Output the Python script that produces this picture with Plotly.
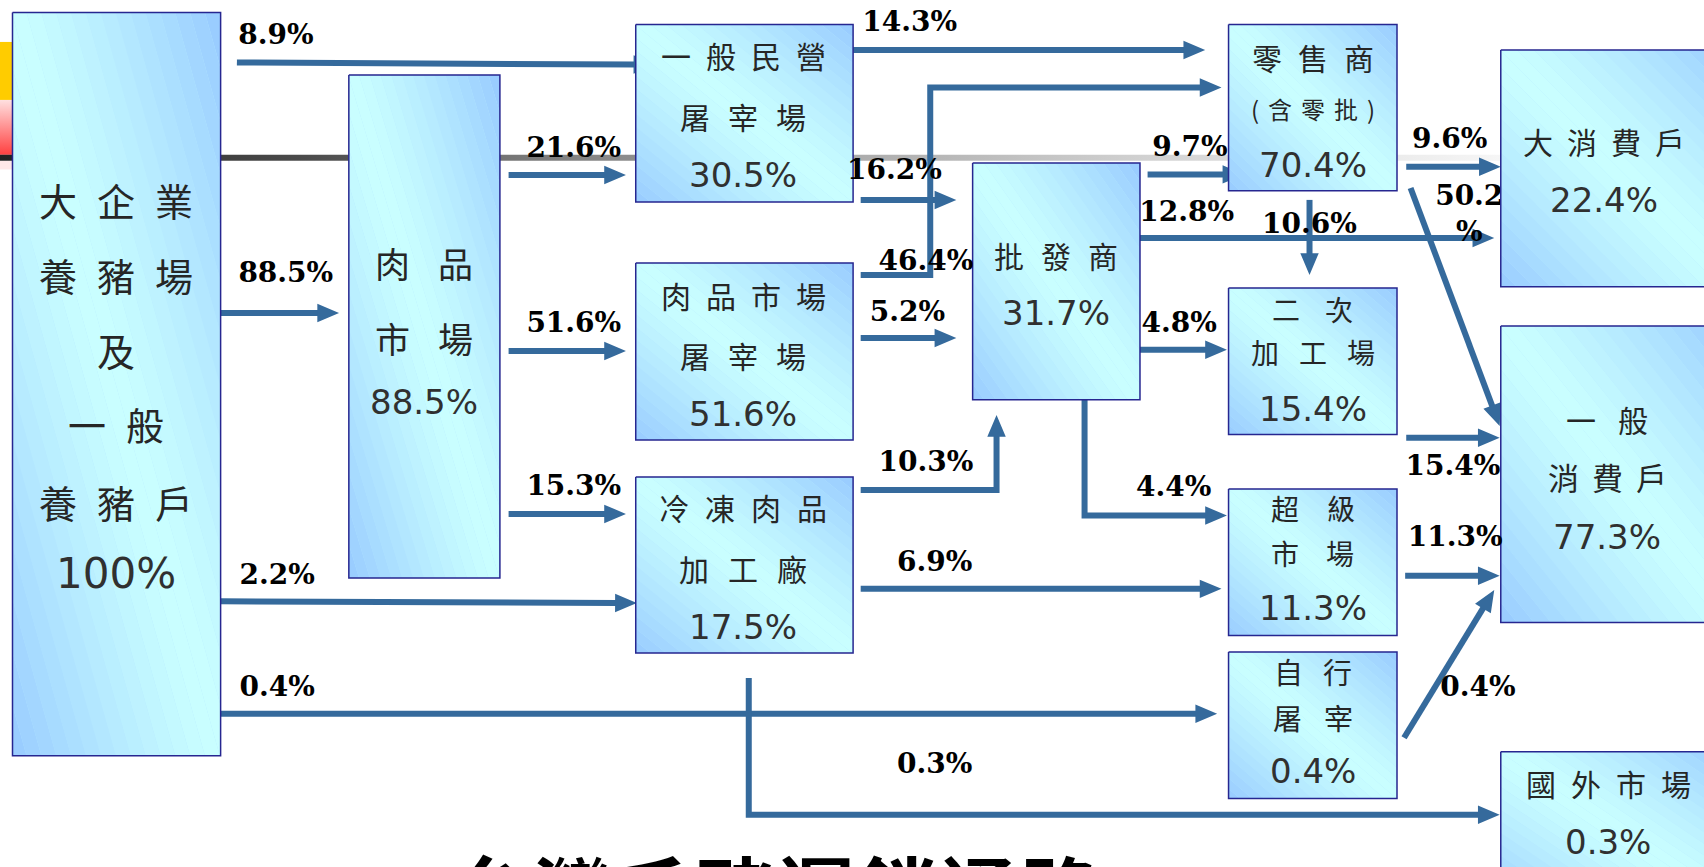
import math
import plotly.graph_objects as go

# ---------------- data ----------------
node_names = [
    ["大企業", "養豬場", "及", "一般", "養豬戶"],
    ["肉品", "市場"],
    ["一般民營", "屠宰場"],
    ["肉品市場", "屠宰場"],
    ["冷凍肉品", "加工廠"],
    ["批發商"],
    ["零售商", "(含零批)"],
    ["二次", "加工場"],
    ["超級", "市場"],
    ["自行", "屠宰"],
    ["大消費戶"],
    ["一般", "消費戶"],
    ["國外市場"],
]
node_shares = ["100%", "88.5%", "30.5%", "51.6%", "17.5%", "31.7%", "70.4%",
               "15.4%", "11.3%", "0.4%", "22.4%", "77.3%", "0.3%"]

flow_source = [0, 0, 0, 0, 1, 1, 1, 2, 2, 3, 3, 4, 4, 4, 5, 5, 5, 5, 6, 6, 6, 7, 8, 9]
flow_target = [2, 1, 4, 9, 2, 3, 4, 6, 5, 6, 5, 5, 8, 12, 6, 10, 7, 8, 7, 10, 11, 11, 11, 11]
flow_shares = ["8.9%", "88.5%", "2.2%", "0.4%", "21.6%", "51.6%", "15.3%", "14.3%",
               "16.2%", "46.4%", "5.2%", "10.3%", "6.9%", "0.3%", "9.7%", "12.8%",
               "4.8%", "4.4%", "10.6%", "9.6%", "50.2%", "15.4%", "11.3%", "0.4%"]

title_text = "台灣毛豬運銷通路"

# ---------------- layout geometry (diagram units = 1568 x 798 canvas) ----------------
W_UNITS, H_UNITS = 1568, 798
box_rects = [
    (11.5, 11.5, 203, 695.5),
    (321, 69, 460, 532),
    (585, 22.5, 785, 186),
    (585, 242, 785, 405),
    (585, 439, 785, 601),
    (895, 150, 1049, 368),
    (1130.5, 22.5, 1285.5, 175.5),
    (1130.5, 265, 1285.5, 400),
    (1130.5, 450, 1285.5, 585),
    (1130.5, 600, 1285.5, 735),
    (1381, 46, 1600, 264),
    (1381, 300, 1600, 573),
    (1381, 692, 1600, 840),
]
text_x = [107, 390, 684, 684, 684, 972, 1208, 1208, 1208, 1208, 1476, 1479, 1480]
text_y = [
    [184, 253, 322, 390, 462, 528],
    [242, 311, 370],
    [51, 107, 161],
    [271.5, 327, 381],
    [467, 523, 577],
    [235, 288],
    [52, 100, 152],
    [284, 324, 376],
    [468, 509, 560],
    [618, 660, 710],
    [130, 184],
    [386, 439, 494],
    [721, 775],
]
line_style = [  # (font px, letter spacing px) for each name line
    [(38, 20)] * 5,
    [(35, 28), (35, 28)],
    [(30, 15), (30, 18)],
    [(30, 15), (30, 18)],
    [(30, 16), (30, 19)],
    [(30, 17)],
    [(30, 16), (24, 9)],
    [(28, 25), (28, 20)],
    [(28, 28), (28, 27)],
    [(29, 20), (29, 22)],
    [(30, 14)],
    [(30, 22), (31, 13)],
    [(30, 15)],
]
value_size = [42] + [34] * 12

flow_paths = [
    [(218, 57.5), (603, 59.5)],
    [(203, 288), (312, 288)],
    [(203, 553.5), (586, 555)],
    [(203, 657), (1120, 657)],
    [(468, 161), (576, 161)],
    [(468, 323), (576, 323)],
    [(468, 473), (576, 473)],
    [(778, 46), (1109, 46)],
    [(792, 184), (880, 184)],
    [(792, 253), (856, 253), (856, 80.5), (1124, 80.5)],
    [(792, 311), (880, 311)],
    [(792, 451), (917, 451), (917, 382)],
    [(792, 542), (1124, 542)],
    [(689, 624), (689, 750), (1380, 750)],
    [(1056, 160.5), (1145, 160.5)],
    [(1043, 219), (1375, 219)],
    [(1043, 322), (1129, 322)],
    [(998, 368), (998, 474.5), (1129, 474.5)],
    [(1205, 184), (1205, 253)],
    [(1294, 153.5), (1381, 153.5)],
    [(1298, 173), (1380, 392)],
    [(1294, 403), (1380, 403)],
    [(1293, 530), (1380, 530)],
    [(1292, 679), (1375, 543)],
]
flow_label_pos = [
    (254, 34), (263, 253), (255, 531), (255, 634), (528, 138), (528, 299),
    (528, 449), (837, 22), (823, 158), (852, 242), (835, 289), (852, 427),
    (860, 519), (860, 705), (1095, 137), (1092, 197), (1085, 299), (1080, 450),
    (1205, 208), (1334, 130), (1352, 199), (1337, 431), (1339, 496), (1360, 634),
]

ARROW = "#356A9C"
BORDER = "#262690"
CN_FONT = "Noto Sans CJK TC"
CYAN = (202, 255, 255)
BLUE = (152, 203, 255)

fig = go.Figure()


def rect_xy(x0, y0, x1, y1):
    return [x0, x1, x1, x0, x0], [y0, y0, y1, y1, y0]


# ---- slide decoration ----
x, y = rect_xy(0, 38.6, 11.5, 92)
fig.add_trace(go.Scatter(x=x, y=y, mode="none", fill="toself", fillcolor="#FFCC00", hoverinfo="skip"))
x, y = rect_xy(0, 92, 11.5, 142.5)
fig.add_trace(go.Scatter(x=x, y=y, mode="none", fill="toself", hoverinfo="skip",
                         fillgradient=dict(type="vertical", colorscale=[[0, "#FF4040"], [1, "#FFE0E0"]])))
x, y = rect_xy(0, 148, 11.5, 156)
fig.add_trace(go.Scatter(x=x, y=y, mode="none", fill="toself", fillcolor="#FFE8E8", hoverinfo="skip"))
x, y = rect_xy(0, 142.5, 1381, 148)
fig.add_trace(go.Scatter(x=x, y=y, mode="none", fill="toself", hoverinfo="skip",
                         fillgradient=dict(type="horizontal",
                                           colorscale=[[0, "#222222"], [0.2, "#4a4a4a"], [0.4, "#888888"],
                                                       [0.6, "#b2b2b2"], [0.8, "#d8d8d8"], [1, "#f6f6f6"]])))

# ---- arrows ----
L, HW = 20, 8.5
sx, sy, tx, ty = [], [], [], []
for pts in flow_paths:
    (xa, ya), (xb, yb) = pts[-2], pts[-1]
    d = math.hypot(xb - xa, yb - ya)
    ux, uy = (xb - xa) / d, (yb - ya) / d
    bx, by = xb - ux * L, yb - uy * L
    shaft = pts[:-1] + [(bx + ux * 2, by + uy * 2)]
    sx += [p[0] for p in shaft] + [None]
    sy += [p[1] for p in shaft] + [None]
    px, py = -uy, ux
    tri = [(xb, yb), (bx + px * HW, by + py * HW), (bx - px * HW, by - py * HW), (xb, yb)]
    tx += [p[0] for p in tri] + [None]
    ty += [p[1] for p in tri] + [None]
fig.add_trace(go.Scatter(x=sx, y=sy, mode="lines", line=dict(color=ARROW, width=6), hoverinfo="skip"))
fig.add_trace(go.Scatter(x=tx, y=ty, mode="none", fill="toself", fillcolor=ARROW, hoverinfo="skip"))


# ---- flow labels (50.2% sits under the box edge) ----
def label_trace(idxs):
    xs, ys, ts = [], [], []
    for i in idxs:
        xs.append(flow_label_pos[i][0]); ys.append(flow_label_pos[i][1])
        t = flow_shares[i]
        if i == 20:
            t = t[:-1] + "<br>%"
        ts.append(t)
    return go.Scatter(x=xs, y=ys, mode="text", text=ts, textposition="middle center",
                      textfont=dict(family="DejaVu Serif", size=28, color="#000000", weight="bold"),
                      hoverinfo="skip")


fig.add_trace(label_trace([20]))

# ---- boxes: base fill, diagonal gradient strips, border ----
bx_all, by_all = [], []
for r in box_rects:
    x, y = rect_xy(*r)
    bx_all += x + [None]; by_all += y + [None]
fig.add_trace(go.Scatter(x=bx_all, y=by_all, mode="none", fill="toself", fillcolor="#B6E8FF", hoverinfo="skip"))


def clip(poly, a, b, c):
    out = []
    n = len(poly)
    for i in range(n):
        p, q = poly[i], poly[(i + 1) % n]
        fp = a * p[0] + b * p[1] - c
        fq = a * q[0] + b * q[1] - c
        if fp <= 0:
            out.append(p)
        if (fp < 0 < fq) or (fq < 0 < fp):
            t = fp / (fp - fq)
            out.append((p[0] + t * (q[0] - p[0]), p[1] + t * (q[1] - p[1])))
    return out


N_STRIPS = 28
square = [(0, 0), (1, 0), (1, 1), (0, 1)]
for k in range(N_STRIPS):
    ca = -1 + 2 * k / N_STRIPS
    cb = -1 + 2 * (k + 1) / N_STRIPS
    poly = clip(square, 1, -1, -ca - 0.004)
    poly = clip(poly, -1, 1, cb + 0.004)
    if len(poly) < 3:
        continue
    s = abs((ca + cb) / 2)
    w = s ** 1.25
    col = "rgb(%d,%d,%d)" % tuple(round(CYAN[j] * (1 - w) + BLUE[j] * w) for j in range(3))
    xs, ys = [], []
    for (x0, y0, x1, y1) in box_rects:
        pts = [(x0 + u * (x1 - x0), y0 + v * (y1 - y0)) for (u, v) in poly]
        pts.append(pts[0])
        xs += [p[0] for p in pts] + [None]
        ys += [p[1] for p in pts] + [None]
    fig.add_trace(go.Scatter(x=xs, y=ys, mode="none", fill="toself", fillcolor=col, hoverinfo="skip"))

fig.add_trace(go.Scatter(x=bx_all, y=by_all, mode="lines", line=dict(color=BORDER, width=1.5), hoverinfo="skip"))

fig.add_trace(label_trace([i for i in range(len(flow_shares)) if i != 20]))

# ---- box texts ----
annotations = []
for n, lines in enumerate(node_names):
    for k, line in enumerate(lines):
        size, sp = line_style[n][k]
        annotations.append(dict(
            x=text_x[n], y=text_y[n][k], xref="x", yref="y", showarrow=False,
            text=f'<span style="letter-spacing:{sp}px">{line}</span>', xshift=sp / 2,
            font=dict(family=CN_FONT, size=size, color="#262626")))
    annotations.append(dict(
        x=text_x[n], y=text_y[n][len(lines)], xref="x", yref="y", showarrow=False,
        text=node_shares[n], font=dict(family="DejaVu Sans", size=value_size[n], color="#303030")))

# ---- title (cut by the bottom edge) ----
annotations.append(dict(
    x=777 / 1704, y=1 - 889 / 867, xref="paper", yref="paper", showarrow=False,
    xanchor="center", yanchor="middle",
    text=f'<span style="letter-spacing:3px">{title_text}</span>',
    font=dict(family=CN_FONT, size=78, color="#000000", weight="bold")))

fig.update_layout(
    width=1704, height=867, margin=dict(l=0, r=0, t=0, b=0),
    paper_bgcolor="white", plot_bgcolor="white", showlegend=False,
    xaxis=dict(range=[0, W_UNITS], visible=False, fixedrange=True),
    yaxis=dict(range=[H_UNITS, 0], visible=False, fixedrange=True),
    annotations=annotations,
)
fig.write_html("out.html", config={"displayModeBar": False},
               post_script="document.body.style.margin='0px';document.body.style.overflow='hidden';")
